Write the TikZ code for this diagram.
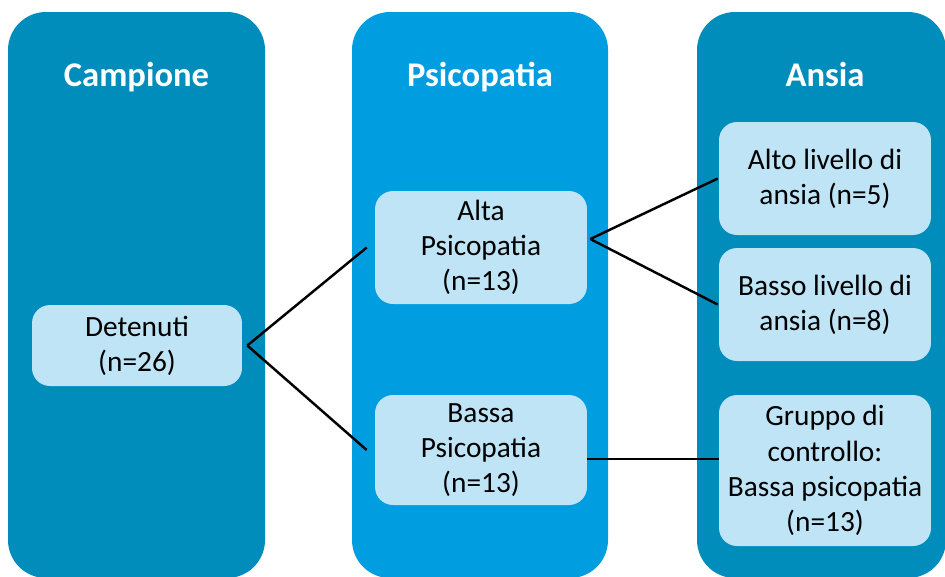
\documentclass[tikz,border=0pt]{standalone}
\usepackage{fontspec}
\setmainfont{Carlito}
\definecolor{coldark}{RGB}{0,141,188}
\definecolor{colbright}{RGB}{0,158,224}
\definecolor{boxfill}{RGB}{190,228,246}
\begin{document}
\begin{tikzpicture}[x=0.02cm,y=-0.02cm,
        col/.style={rounded corners=0.76cm},
        title/.style={text=white,anchor=base,inner sep=0pt,
            font=\fontsize{19.7}{23}\selectfont\bfseries},
        grp/.style={fill=boxfill,rounded corners=0.36cm,align=center,
            inner sep=0pt,font=\fontsize{16.7}{20}\selectfont},
        link/.style={line width=1.4pt}]
\useasboundingbox (0,0) rectangle (945,576);
\clip (0,0) rectangle (945,576);
\fill[coldark,col] (8,12) rectangle (265,578);
\fill[colbright,col] (352,12) rectangle (608,578);
\fill[coldark,col] (697,12) rectangle (946,578);

\node[title] (t1) at (136.5,86) {Campione};
\node[title] (t2) at (480,86) {Psicopatia};
\node[title] (t3) at (825,86) {Ansia};

\node[grp,minimum width=4.2cm,minimum height=1.62cm] (det) at (137,345.5) {Detenuti\\(n=26)};
\node[grp,minimum width=4.24cm,minimum height=2.26cm] (alta) at (481,247.5) {Alta\\Psicopatia\\(n=13)};
\node[grp,minimum width=4.24cm,minimum height=2.2cm] (bassa) at (481,450) {Bassa\\Psicopatia\\(n=13)};
\node[grp,minimum width=4.24cm,minimum height=2.26cm] (alto) at (825,178.5) {Alto livello di\\ansia (n=5)};
\node[grp,minimum width=4.24cm,minimum height=2.26cm] (basso) at (825,304.5) {Basso livello di\\ansia (n=8)};
\node[grp,minimum width=4.24cm,minimum height=3.02cm] (gruppo) at (825,470.5) {Gruppo di\\controllo:\\Bassa psicopatia\\(n=13)};

\draw[link] ([xshift=0.1cm]det.east) -- ([xshift=-0.16cm]alta.west);
\draw[link] ([xshift=0.1cm]det.east) -- ([xshift=-0.16cm]bassa.west);
\draw[link] ([xshift=0.06cm,yshift=0.17cm]alta.east) -- ([xshift=-0.02cm]alto.west);
\draw[link] ([xshift=0.06cm,yshift=0.17cm]alta.east) -- ([xshift=-0.02cm]basso.west);
\draw[link] ([yshift=-0.18cm]bassa.east) -- ([yshift=-0.18cm]bassa.east -| gruppo.west);
\end{tikzpicture}
\end{document}
